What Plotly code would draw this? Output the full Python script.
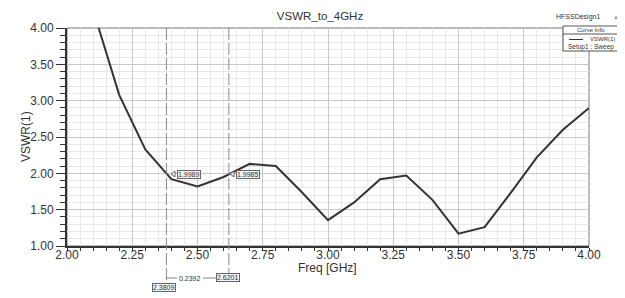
import plotly.graph_objects as go

# ---- data ----
freq = [2.1, 2.2, 2.3, 2.4, 2.5, 2.6, 2.7, 2.8, 2.9, 3.0, 3.1, 3.2, 3.3, 3.4, 3.5, 3.6, 3.7, 3.8, 3.9, 4.0]
vswr = [4.25, 3.08, 2.33, 1.92, 1.82, 1.95, 2.13, 2.10, 1.74, 1.355, 1.60, 1.92, 1.97, 1.635, 1.17, 1.26, 1.73, 2.22, 2.60, 2.90]
marker_freq = [2.3809, 2.6201]
marker_vswr = [1.9989, 1.9985]
delta_freq = 0.2392
x_ticks = [2.00, 2.25, 2.50, 2.75, 3.00, 3.25, 3.50, 3.75, 4.00]
y_ticks = [1.00, 1.50, 2.00, 2.50, 3.00, 3.50, 4.00]

# page has an 8px body margin; figure is sized/offset to compensate
OFF = 8
W, H = 625 - OFF, 298 - OFF
PL, PR, PT, PB = 67, 589, 28, 246  # plot area in screen pixels
PW, PH = PR - PL, PB - PT
L, T = PL - OFF, PT - OFF
R, B = W - L - PW, H - T - PH


def px(x):
    return (x - PL) / PW


def py(y):
    return (PB - y) / PH


FONT = "Liberation Sans, Arial, sans-serif"
TXT = "#333333"
fig = go.Figure()
fig.add_trace(go.Scatter(x=freq, y=vswr, mode="lines",
                         line=dict(color="#333333", width=2), showlegend=False,
                         hoverinfo="skip"))

shapes = []
annotations = []


def note(x, y, text, size, **kw):
    d = dict(xref="paper", yref="paper", x=px(x), y=py(y), text=text, showarrow=False,
             xanchor="center", yanchor="middle", font=dict(family=FONT, size=size, color=TXT))
    d.update(kw)
    annotations.append(d)


# marker dashed lines
bottoms = [283, 273]
for f, yb in zip(marker_freq, bottoms):
    shapes.append(dict(type="line", xref="x", yref="paper", x0=f, x1=f, y0=1, y1=py(yb),
                       line=dict(color="#8a8a8a", width=1, dash="12px,3px")))

# marker value labels with pointer
label_pos = [(189, 174), (248, 174)]
for (cx, cy), v in zip(label_pos, marker_vswr):
    note(cx, cy, f"{v:.4f}", 7, bgcolor="#f2f2f2", bordercolor="#666", borderwidth=1, borderpad=0)
    lx = cx - 14
    shapes.append(dict(type="path", xref="paper", yref="paper",
                       path=f"M {px(lx)},{py(cy - 3)} L {px(lx - 4)},{py(cy)} L {px(lx)},{py(cy + 3)} Z",
                       line=dict(color="#666", width=1), fillcolor="#f2f2f2"))

# bottom marker freq labels
fpos = [(164, 287), (228, 277)]
for (cx, cy), f in zip(fpos, marker_freq):
    note(cx, cy, f"{f:.4f}", 7, bgcolor="#f2f2f2", bordercolor="#666", borderwidth=1, borderpad=0)
note(190, 278, f"{delta_freq:.4f}", 7)
shapes.append(dict(type="line", xref="paper", yref="paper", x0=px(166), x1=px(177), y0=py(278), y1=py(278),
                   line=dict(color="#888", width=1)))
shapes.append(dict(type="line", xref="paper", yref="paper", x0=px(203), x1=px(216), y0=py(278), y1=py(278),
                   line=dict(color="#888", width=1)))

# axis titles
note(327, 267.5, "Freq [GHz]", 12)
note(26, 137, "VSWR(1)", 12, textangle=-90)

# HFSSDesign1 header and triangle
note(578, 17.5, "HFSSDesign1", 7)
note(616, 17, "▲", 6, font=dict(family=FONT, size=6, color="#999"))
# curve info box
shapes.append(dict(type="rect", xref="paper", yref="paper", x0=px(563), x1=px(618), y0=py(51), y1=py(26),
                   line=dict(color="#555", width=1), fillcolor="white"))
shapes.append(dict(type="line", xref="paper", yref="paper", x0=px(563), x1=px(618), y0=py(34), y1=py(34),
                   line=dict(color="#555", width=1)))
note(591, 30, "Curve Info", 6)
shapes.append(dict(type="line", xref="paper", yref="paper", x0=px(569), x1=px(583), y0=py(39.5), y1=py(39.5),
                   line=dict(color="#333", width=1)))
note(617, 38.5, "VSWR(1)", 6, xanchor="right")
note(590.5, 46.5, "Setup1 : Sweep", 6.5)

fig.update_layout(
    width=W, height=H,
    margin=dict(l=L, r=R, t=T, b=B, autoexpand=False),
    paper_bgcolor="white", plot_bgcolor="white",
    font=dict(family=FONT, size=12, color=TXT),
    title=dict(text="VSWR_to_4GHz", x=(320 - OFF) / W, xanchor="center", y=1 - (16 - OFF) / H,
               yanchor="middle", font=dict(family=FONT, size=11.5, color=TXT)),
    xaxis=dict(range=[2.0, 4.0], tickvals=x_ticks, ticktext=[f"{v:.2f}" for v in x_ticks],
               showgrid=True, gridcolor="#c8c8c8", gridwidth=1,
               minor=dict(dtick=0.05, showgrid=True, gridcolor="#e8e8e8", ticks="outside", ticklen=3,
                          tickcolor="#333"),
               ticks="", ticklabelstandoff=-3,
               showline=True, linecolor="#333", linewidth=2, mirror=False, zeroline=False,
               tickfont=dict(family=FONT, size=12, color=TXT)),
    yaxis=dict(range=[1.0, 4.0], tickvals=y_ticks, ticktext=[f"{v:.2f}" for v in y_ticks],
               showgrid=True, gridcolor="#c8c8c8", gridwidth=1,
               minor=dict(dtick=0.1, showgrid=True, gridcolor="#e8e8e8", ticks="outside", ticklen=5,
                          tickcolor="#333"),
               ticks="outside", ticklen=9, tickcolor="#333",
               showline=True, linecolor="#333", linewidth=2, zeroline=False,
               tickfont=dict(family=FONT, size=12, color=TXT)),
    shapes=shapes + [dict(type="rect", xref="paper", yref="paper", x0=0, x1=1, y0=0, y1=1,
                          line=dict(color="#777", width=1), layer="below")],
    annotations=annotations,
)

fig.write_html("out.html")
